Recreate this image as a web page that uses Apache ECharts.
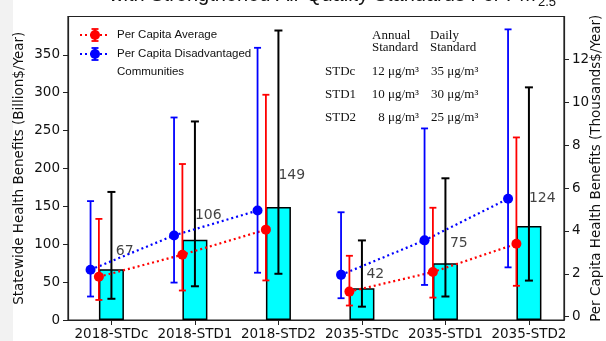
<!DOCTYPE html>
<html>
<head>
<meta charset="utf-8">
<script src="https://cdn.jsdelivr.net/npm/echarts@6/dist/echarts.min.js"></script>
<style>
html,body{margin:0;padding:0;background:#fff;}
#c{width:606px;height:341px;}
</style>
</head>
<body>
<div id="c"></div>
<script>
// ---- data ----
var categories = ['2018-STDc','2018-STD1','2018-STD2','2035-STDc','2035-STD1','2035-STD2'];
var statewide = [67, 106, 149, 42, 75, 124];
var statewideLow = [28, 44.5, 61, 17.6, 31, 52];
var statewideHigh = [169, 262, 382, 105, 187, 307];
var avgCapita = [1.86, 2.89, 4.06, 1.17, 2.08, 3.40];
var avgLow = [0.78, 1.22, 1.69, 0.52, 0.89, 1.44];
var avgHigh = [4.56, 7.12, 10.35, 2.84, 5.08, 8.36];
var dacCapita = [2.19, 3.79, 4.95, 1.95, 3.56, 5.50];
var dacLow = [0.94, 1.59, 2.05, 0.86, 1.48, 2.30];
var dacHigh = [5.39, 9.29, 12.54, 4.87, 8.78, 13.40];
var leftTicks = [0, 50, 100, 150, 200, 250, 300, 350];
var rightTicks = [0, 2, 4, 6, 8, 10, 12];
var groups = [[0,1,2],[3,4,5]];
var tableHeader = [['Annual','Standard'],['Daily','Standard']];
var tableRows = [['STDc','12 μg/m³','35 μg/m³'],['STD1','10 μg/m³','30 μg/m³'],['STD2','8 μg/m³','25 μg/m³']];

var chart = echarts.init(document.getElementById('c'), null, {renderer:'canvas'});
var tickFont = 'DejaVu Sans';
var idx = categories.map(function(_, i){ return i; });
var BLUE_OFF = -0.25, RED_OFF = -0.15;

function errRender(color, lw, capHalf){
  return function(params, api){
    var x = api.value(0), lo = api.value(1), hi = api.value(2);
    var p1 = api.coord([x, lo]), p2 = api.coord([x, hi]);
    var st = {stroke: color, lineWidth: lw};
    return {type:'group', children:[
      {type:'line', shape:{x1:p1[0], y1:p1[1], x2:p2[0], y2:p2[1]}, style:st},
      {type:'line', shape:{x1:p1[0]-capHalf, y1:p1[1], x2:p1[0]+capHalf, y2:p1[1]}, style:st},
      {type:'line', shape:{x1:p2[0]-capHalf, y1:p2[1], x2:p2[0]+capHalf, y2:p2[1]}, style:st}
    ]};
  };
}

var series = [];
series.push({
  type:'bar', xAxisIndex:0, yAxisIndex:0, barWidth:25, z:1,
  data: idx.map(function(i){ return [i, statewide[i]]; }),
  itemStyle:{color:'#00ffff', borderColor:'#000', borderWidth:1.5},
  animation:false
});
series.push({
  type:'custom', xAxisIndex:0, yAxisIndex:0, z:3,
  renderItem: errRender('#000', 2, 4),
  data: idx.map(function(i){ return [i, statewideLow[i], statewideHigh[i]]; }),
  animation:false
});
// bar value labels
series.push({
  type:'scatter', xAxisIndex:0, yAxisIndex:0, symbolSize:0, z:4,
  data: idx.map(function(i){ return [i + 0.16, statewide[i]*1.22 + 9, statewide[i]]; }),
  label:{show:true, position:'inside', formatter:function(p){ return String(p.value[2]); },
    fontFamily:tickFont, fontSize:14, color:'#111'},
  silent:true, animation:false
});
function addPerCapita(vals, lo, hi, off, color){
  groups.forEach(function(g){
    series.push({
      type:'line', xAxisIndex:0, yAxisIndex:1, z:5, symbol:'none',
      data: g.map(function(i){ return [i + off, vals[i]]; }),
      lineStyle:{color:color, width:2.2, type:[2,3]}, animation:false
    });
  });
  series.push({
    type:'custom', xAxisIndex:0, yAxisIndex:1, z:6,
    renderItem: errRender(color, 1.8, 3.5),
    data: idx.map(function(i){ return [i + off, lo[i], hi[i]]; }),
    animation:false
  });
  series.push({
    type:'scatter', xAxisIndex:0, yAxisIndex:1, z:7, symbol:'circle', symbolSize:10,
    data: idx.map(function(i){ return [i + off, vals[i]]; }),
    itemStyle:{color:color, opacity:1}, animation:false
  });
}
addPerCapita(avgCapita, avgLow, avgHigh, RED_OFF, '#ff0000');
addPerCapita(dacCapita, dacLow, dacHigh, BLUE_OFF, '#0000ff');

// graphics: background strip, title, legend, table
var graphics = [];
graphics.push({type:'rect', left:0, top:0, shape:{width:13, height:341}, style:{fill:'#f2f2f2'}, z:-10});
graphics.push({type:'text', x:536, y:5, style:{text:'with Strengthened Air Quality Standards For PM', font:'20px "Liberation Sans"', fill:'#111', textAlign:'right', textVerticalAlign:'bottom'}});
graphics.push({type:'text', x:538, y:9, style:{text:'2.5', font:'13px "Liberation Sans"', fill:'#111', textAlign:'left', textVerticalAlign:'bottom'}});
function legendItem(y, color){
  var x0 = 80, x1 = 109, cx = 95;
  graphics.push({type:'line', shape:{x1:x0, y1:y, x2:x1, y2:y}, style:{stroke:color, lineWidth:2, lineDash:[2,3]}, z:20});
  graphics.push({type:'line', shape:{x1:cx, y1:y-6, x2:cx, y2:y+6}, style:{stroke:color, lineWidth:1.8}, z:20});
  graphics.push({type:'line', shape:{x1:cx-3.5, y1:y-6, x2:cx+3.5, y2:y-6}, style:{stroke:color, lineWidth:1.8}, z:20});
  graphics.push({type:'line', shape:{x1:cx-3.5, y1:y+6, x2:cx+3.5, y2:y+6}, style:{stroke:color, lineWidth:1.8}, z:20});
  graphics.push({type:'circle', shape:{cx:cx, cy:y, r:5}, style:{fill:color}, z:21});
}
legendItem(35, '#ff0000');
legendItem(54, '#0000ff');
var legFont = '11.5px "Liberation Sans"';
graphics.push({type:'text', x:117, y:35, style:{text:'Per Capita Average', font:legFont, fill:'#111', textVerticalAlign:'middle'}, z:20});
graphics.push({type:'text', x:117, y:54, style:{text:'Per Capita Disadvantaged', font:legFont, fill:'#111', textVerticalAlign:'middle'}, z:20});
graphics.push({type:'text', x:117, y:71.5, style:{text:'Communities', font:legFont, fill:'#111', textVerticalAlign:'middle'}, z:20});
var serif = '13px "Liberation Serif"';
tableHeader.forEach(function(h, k){
  var x = k === 0 ? 372 : 430;
  graphics.push({type:'text', x:x, y:36, style:{text:h[0], font:serif, fill:'#111', textVerticalAlign:'middle'}, z:20});
  graphics.push({type:'text', x:x, y:48, style:{text:h[1], font:serif, fill:'#111', textVerticalAlign:'middle'}, z:20});
});
tableRows.forEach(function(r, k){
  var y = 72 + k*23;
  graphics.push({type:'text', x:325, y:y, style:{text:r[0], font:serif, fill:'#111', textVerticalAlign:'middle'}, z:20});
  graphics.push({type:'text', x:419, y:y, style:{text:r[1], font:serif, fill:'#111', textAlign:'right', textVerticalAlign:'middle'}, z:20});
  graphics.push({type:'text', x:431, y:y, style:{text:r[2], font:serif, fill:'#111', textVerticalAlign:'middle'}, z:20});
});

var axisLineStyle = {color:'#222', width:1.2};
var option = {
  backgroundColor:'#ffffff',
  animation:false,
  grid:{left:68, right:42, top:16.5, bottom:21, show:true, borderColor:'#222', borderWidth:1.2, backgroundColor:'transparent', outerBoundsMode:'none', containLabel:false},
  xAxis:[{
    type:'value', min:-0.52, max:5.42,
    splitLine:{show:false},
    axisLine:{show:true, onZero:false, lineStyle:axisLineStyle},
    axisTick:{show:true, length:5, lineStyle:{color:'#222'}, customValues:idx},
    axisLabel:{customValues:idx, formatter:function(v){ return categories[Math.round(v)]; },
      fontFamily:tickFont, fontSize:13.5, color:'#111', margin:7}
  }],
  yAxis:[{
    type:'value', min:0, max:400.5, position:'left',
    name:'Statewide Health Benefits (Billion$/Year)', nameLocation:'middle', nameGap:42, nameMoveOverlap:false,
    nameTextStyle:{fontFamily:tickFont, fontSize:13.5, color:'#111'},
    splitLine:{show:false},
    axisLine:{show:true, onZero:false, lineStyle:axisLineStyle},
    axisTick:{show:true, length:5, lineStyle:{color:'#222'}, customValues:leftTicks},
    axisLabel:{customValues:leftTicks, fontFamily:tickFont, fontSize:13.5, color:'#111', margin:8}
  },{
    type:'value', min:-0.155, max:14.0, position:'right',
    name:'Per Capita Health Benefits (Thousands$/Year)', nameLocation:'middle', nameGap:25, nameMoveOverlap:false,
    nameTextStyle:{fontFamily:tickFont, fontSize:13.5, color:'#111'},
    splitLine:{show:false},
    axisLine:{show:true, onZero:false, lineStyle:axisLineStyle},
    axisTick:{show:true, length:5, lineStyle:{color:'#222'}, customValues:rightTicks},
    axisLabel:{customValues:rightTicks, fontFamily:tickFont, fontSize:13.5, color:'#111', margin:8}
  }],
  series: series,
  graphic: graphics
};
chart.setOption(option);
</script>
</body>
</html>
